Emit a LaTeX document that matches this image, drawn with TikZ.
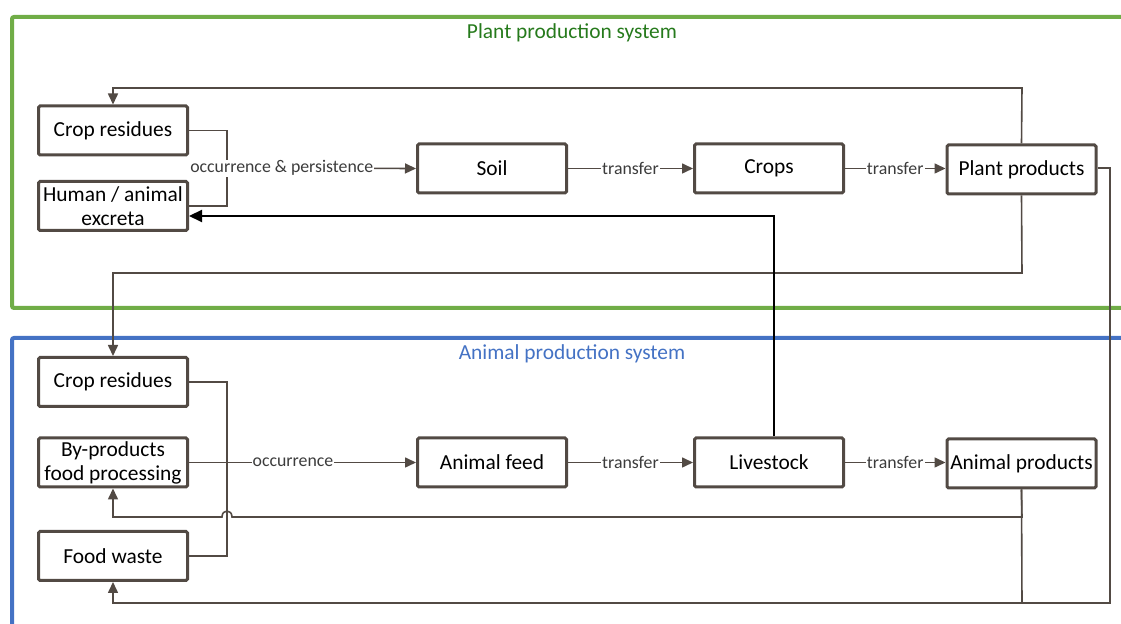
\documentclass[tikz,border=0pt]{standalone}
\usepackage{fontspec}
\setmainfont{Carlito}
\usetikzlibrary{arrows.meta}
\definecolor{edgec}{RGB}{82,74,68}
\definecolor{frameG}{RGB}{112,173,71}
\definecolor{frameB}{RGB}{68,114,196}
\definecolor{titleG}{RGB}{38,122,28}
\definecolor{titleB}{RGB}{68,114,196}
\definecolor{labc}{RGB}{60,60,60}
\tikzset{
  box/.style={draw=edgec, line width=1.5pt, rounded corners=0.8pt, fill=white,
    minimum width=74.5pt, minimum height=24.5pt, inner sep=1pt, align=center,
    font=\fontsize{10.7}{12}\selectfont, text=black},
  conn/.style={draw=edgec, line width=0.8pt},
  tip/.style={-{Triangle[length=5.5pt,width=5pt]}},
  lab/.style={fill=white, inner sep=0.5pt, text=labc, font=\fontsize{8.9}{10}\selectfont},
  ttl/.style={font=\fontsize{10.7}{12}\selectfont}
}
\begin{document}
\begin{tikzpicture}[x=0.5pt,y=-0.5pt]
\useasboundingbox (0,0) rectangle (1121,624);
% frames
\draw[frameG, line width=2pt, rounded corners=1pt] (1140,17) -- (12,17) -- (12,308) -- (1140,308);
\draw[frameB, line width=2pt, rounded corners=1pt] (1140,338) -- (12,338) -- (12,640);
\node[ttl, text=titleG] (t1) at (572,33) {Plant production system};
\node[ttl, text=titleB] (t2) at (572,354) {Animal production system};
% boxes top
\node[box] (cr1) at (113,130.5) {Crop residues};
\node[box] (ex) at (113,206) {Human / animal\\excreta};
\node[box] (soil) at (492,168.5) {Soil};
\node[box] (crops) at (769,168.5) {Crops};
\node[box] (pp) at (1021.5,169.5) {Plant products};
% boxes bottom
\node[box] (cr2) at (113,382) {Crop residues};
\node[box] (bp) at (113,462.5) {By-products\\food processing};
\node[box] (fw) at (113,556) {Food waste};
\node[box] (af) at (492,462.5) {Animal feed};
\node[box] (ls) at (769,462.5) {Livestock};
\node[box] (ap) at (1021.5,463.5) {Animal products};
% coordinates
\coordinate (j1) at (227,168);
\coordinate (t88) at (1022,88);
\coordinate (t273) at (1022,273);
\coordinate (h517) at (1022,517);
\coordinate (hopR) at (232,517);
\coordinate (hopL) at (222,517);
\coordinate (b517) at (113,517);
\coordinate (r168) at (1110,168);
\coordinate (r603) at (1110,603);
\coordinate (m603) at (1022,603);
\coordinate (l603) at (113,603);
\coordinate (jb) at (227,462);
% top connectors
\draw[conn] (cr1.east) -| (j1) |- (ex.east);
\draw[conn,tip] (j1) -- node[lab,pos=0.29]{occurrence \& persistence} (soil.west);
\draw[conn,tip] (soil.east) -- node[lab]{transfer} (crops.west);
\draw[conn,tip] (crops.east) -- node[lab]{transfer} (pp.west |- crops.east);
\draw[conn,tip] (pp.north) -- (t88) -| (cr1.north);
\draw[conn,tip] (pp.south) -- (t273) -| (cr2.north);
% bottom connectors
\draw[conn] (cr2.east) -| (jb) |- (fw.east);
\draw[conn,tip] (bp.east) -- node[lab,pos=0.458]{occurrence} (af.west);
\draw[conn,tip] (af.east) -- node[lab]{transfer} (ls.west);
\draw[conn,tip] (ls.east) -- node[lab]{transfer} (ap.west |- ls.east);
\draw[conn,tip] (ap.south) -- (h517) -- (hopR) .. controls (232,509) and (222,509) .. (hopL) -- (b517) -- (bp.south);
\draw[conn,tip] (pp.east |- r168) -- (r168) -- (r603) -- (l603) -- (fw.south);
\draw[conn] (ap.south) -- (m603);
% black feedback arrow
\draw[black, line width=1pt, -{Triangle[length=6.5pt,width=6pt]}] ([xshift=2.5pt]ls.north) |- ([yshift=-5pt]ex.east);
\end{tikzpicture}
\end{document}
